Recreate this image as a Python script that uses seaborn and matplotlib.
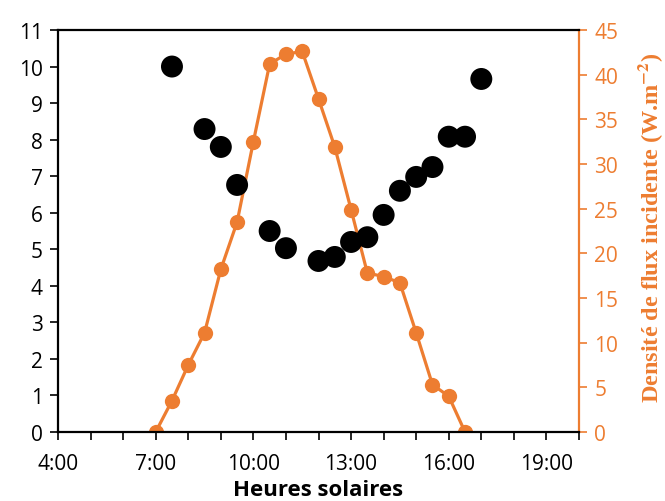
import matplotlib
matplotlib.use("Agg")
import matplotlib.pyplot as plt
import seaborn as sns
import pandas as pd
from matplotlib.ticker import MultipleLocator, FuncFormatter

# Data
dot_hours = [7.5, 8.5, 9.0, 9.5, 10.5, 11.0, 12.0, 12.5, 13.0, 13.5, 14.0, 14.5, 15.0, 15.5, 16.0, 16.5, 17.0]
dot_values = [10.0, 8.29, 7.80, 6.76, 5.50, 5.03, 4.68, 4.79, 5.20, 5.33, 5.94, 6.60, 6.98, 7.25, 8.08, 8.08, 9.66]

flux_hours = [7.0, 7.5, 8.0, 8.5, 9.0, 9.5, 10.0, 10.5, 11.0, 11.5, 12.0, 12.5, 13.0, 13.5, 14.0, 14.5, 15.0, 15.5, 16.0, 16.5]
flux_values = [0.0, 3.5, 7.5, 11.1, 18.2, 23.5, 32.5, 41.2, 42.3, 42.6, 37.3, 31.9, 24.9, 17.8, 17.4, 16.7, 11.1, 5.3, 4.0, 0.0]

x_ticks = [4, 7, 10, 13, 16, 19]
x_label = "Heures solaires"
y2_label = "Densité de flux incidente (W.m$^{\\mathbf{-2}}$)"

ORANGE = "#ED7D31"

sns.set_theme(style="white")
plt.rcParams["font.family"] = ["Open Sans", "DejaVu Sans"]
plt.rcParams["mathtext.fontset"] = "stix"

df_dots = pd.DataFrame({"h": dot_hours, "v": dot_values})
df_flux = pd.DataFrame({"h": flux_hours, "f": flux_values})

fig = plt.figure(figsize=(6.65, 5.02), dpi=100)
ax = fig.add_axes([58 / 665, 1 - 433 / 502, (579 - 58) / 665, (433 - 31) / 502])
ax2 = ax.twinx()

sns.lineplot(data=df_flux, x="h", y="f", ax=ax2, color=ORANGE, linewidth=2.3,
             marker="o", markersize=11, markeredgewidth=0, zorder=2)
sns.scatterplot(data=df_dots, x="h", y="v", ax=ax, color="black", s=250,
                edgecolor="none", zorder=3)

# Put dots above orange line
ax.set_zorder(ax2.get_zorder() + 1)
ax.patch.set_visible(False)

ax.set_xlim(4, 20)
ax.set_ylim(0, 11)
ax2.set_ylim(0, 45)

ax.xaxis.set_major_locator(MultipleLocator(1))
ax.xaxis.set_major_formatter(FuncFormatter(lambda v, p: f"{int(round(v))}:00" if int(round(v)) in x_ticks else ""))
ax.yaxis.set_major_locator(MultipleLocator(1))
ax2.yaxis.set_major_locator(MultipleLocator(5))

ax.tick_params(axis="x", direction="out", length=6, width=1.2, color="black",
               labelsize=15, labelcolor="black", pad=9, bottom=True)
ax.tick_params(axis="y", direction="out", length=6, width=1.2, color="black",
               labelsize=15, labelcolor="black", pad=5, left=True)
ax2.tick_params(axis="y", direction="out", length=6, width=1.2, color=ORANGE,
                labelsize=15, labelcolor=ORANGE, pad=5, right=True)

for name in ["left", "bottom", "top"]:
    ax.spines[name].set_color("black")
    ax.spines[name].set_linewidth(1.6)
ax.spines["right"].set_visible(False)
for name in ["left", "bottom", "top"]:
    ax2.spines[name].set_visible(False)
ax2.spines["right"].set_color(ORANGE)
ax2.spines["right"].set_linewidth(1.6)
ax2.spines["right"].set_visible(True)

ax.set_xlabel(x_label, fontsize=16, fontweight="bold", color="black", labelpad=4)
ax.set_ylabel("")
ax2.set_ylabel(y2_label, fontsize=17.5, fontweight="bold", color=ORANGE,
               family=["Liberation Serif", "DejaVu Serif"])
ax2.yaxis.set_label_coords(1.11, 0.51)
ax.grid(False)
ax2.grid(False)

fig.savefig("out.png", dpi=100)
